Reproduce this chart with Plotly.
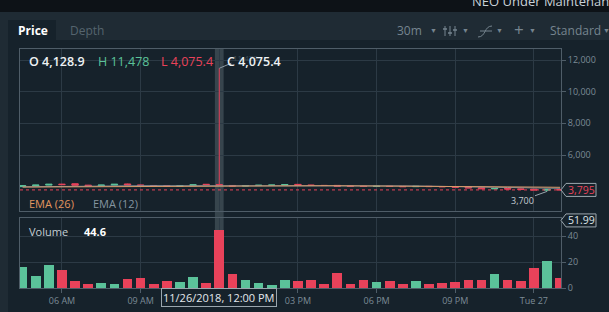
import plotly.graph_objects as go

# ---------------- data ----------------
times = [
    "2018-11-26 04:30", "2018-11-26 05:00", "2018-11-26 05:30", "2018-11-26 06:00",
    "2018-11-26 06:30", "2018-11-26 07:00", "2018-11-26 07:30", "2018-11-26 08:00",
    "2018-11-26 08:30", "2018-11-26 09:00", "2018-11-26 09:30", "2018-11-26 10:00",
    "2018-11-26 10:30", "2018-11-26 11:00", "2018-11-26 11:30", "2018-11-26 12:00",
    "2018-11-26 12:30", "2018-11-26 13:00", "2018-11-26 13:30", "2018-11-26 14:00",
    "2018-11-26 14:30", "2018-11-26 15:00", "2018-11-26 15:30", "2018-11-26 16:00",
    "2018-11-26 16:30", "2018-11-26 17:00", "2018-11-26 17:30", "2018-11-26 18:00",
    "2018-11-26 18:30", "2018-11-26 19:00", "2018-11-26 19:30", "2018-11-26 20:00",
    "2018-11-26 20:30", "2018-11-26 21:00", "2018-11-26 21:30", "2018-11-26 22:00",
    "2018-11-26 22:30", "2018-11-26 23:00", "2018-11-26 23:30", "2018-11-27 00:00",
    "2018-11-27 00:30", "2018-11-27 01:00",
]
opens = [4000, 4055, 4100, 4160, 4185, 4095, 4060, 4100, 4170, 4110, 4075, 4060,
         4030, 4060, 4150, 4128.9, 4075, 4040, 4070, 4090, 4100, 4145, 4100, 4080,
         4080, 4040, 4030, 4010, 4030, 4015, 4000, 4020, 4010, 4000, 3990, 3930,
         3860, 3890, 3860, 3840, 3780, 3830]
highs = [4075, 4110, 4165, 4175, 4200, 4110, 4110, 4160, 4185, 4120, 4085, 4070,
         4070, 4125, 4160, 11478, 4085, 4080, 4095, 4110, 4140, 4160, 4110, 4090,
         4090, 4050, 4040, 4040, 4040, 4025, 4030, 4030, 4020, 4010, 4000, 3940,
         3900, 3900, 3870, 3850, 3840, 3840]
lows = [3985, 4040, 4090, 4115, 4080, 4050, 4050, 4095, 4100, 4060, 4040, 4020,
        4020, 4050, 4120, 4075.4, 4030, 4035, 4060, 4085, 4095, 4085, 4070, 4060,
        4020, 4010, 4000, 4005, 4000, 3990, 3995, 3995, 3985, 3950, 3910, 3860,
        3850, 3840, 3820, 3780, 3700, 3790]
closes = [4060, 4100, 4150, 4130, 4090, 4060, 4100, 4150, 4110, 4070, 4050, 4030,
          4060, 4115, 4128.9, 4075.4, 4040, 4070, 4090, 4100, 4130, 4095, 4080, 4070,
          4030, 4020, 4010, 4030, 4010, 4000, 4020, 4005, 3995, 3960, 3920, 3870,
          3890, 3850, 3830, 3790, 3830, 3795]
volumes = [16.4, 9.2, 17.7, 13.8, 5.4, 3.3, 3.8, 3.1, 6.9, 7.7, 3.3, 5.4,
           4.3, 8.5, 3.8, 44.6, 11.0, 6.2, 4.1, 2.3, 6.2, 5.4, 6.2, 3.3,
           11.8, 3.1, 6.2, 4.6, 5.4, 3.3, 5.1, 3.1, 3.8, 4.3, 6.2, 6.2,
           10.8, 5.9, 5.4, 15.6, 20.8, 7.7]
ema26 = [3975, 3980, 3990, 3998, 4005, 4010, 4013, 4018, 4023, 4026, 4028, 4029,
         4031, 4035, 4040, 4045, 4046, 4048, 4050, 4052, 4055, 4058, 4059, 4060,
         4058, 4055, 4052, 4050, 4047, 4044, 4042, 4039, 4035, 4030, 4022, 4012,
         4004, 3995, 3985, 3975, 3968, 3960]
ema12 = [3990, 4000, 4020, 4035, 4045, 4048, 4052, 4060, 4068, 4068, 4065, 4060,
         4060, 4068, 4078, 4078, 4072, 4072, 4075, 4080, 4088, 4090, 4088, 4085,
         4078, 4070, 4062, 4058, 4053, 4046, 4042, 4036, 4030, 4020, 4003, 3980,
         3966, 3948, 3932, 3910, 3905, 3895]
last_price = 3795
volume_tag = 51.99
low_label = 3700
sel_index = 15
x_tickvals = ["2018-11-26 06:00", "2018-11-26 09:00", "2018-11-26 12:00",
              "2018-11-26 15:00", "2018-11-26 18:00", "2018-11-26 21:00",
              "2018-11-27 00:00"]
x_ticktext = ["06 AM", "09 AM", "", "03 PM", "06 PM", "09 PM", "Tue 27"]
price_ticks = [6000, 8000, 10000, 12000]
vol_ticks = [0, 20, 40]

# ---------------- style ----------------
W, H = 609, 312
def X(px): return px / W
def Y(py): return 1 - py / H

GREEN = "#5bc29a"
RED = "#e8425a"
BG = "#16222b"
PANEL = "#1f2b34"
GRID = "#2c3a45"
LINE = "#4f5d68"
TICK = "#7c8b96"
TAGLINE = "#9aa6ae"
FONT = "Open Sans"

PRICE_RANGE = [2463, 12695]
PRICE_PX = (211, 49)   # bottom, top pixel rows of the price pane
VOL_RANGE = [0, 53.85]
VOL_PX = (288, 218)

def val_py(v, rng, px):
    b, t = px
    return b - (v - rng[0]) / (rng[1] - rng[0]) * (b - t)

vol_colors = [GREEN if c >= o else RED for o, c in zip(opens, closes)]

fig = go.Figure()
fig.add_trace(go.Scatter(x=times, y=ema12, mode="lines", line=dict(color="#7f8e99", width=1),
                         xaxis="x", yaxis="y", hoverinfo="skip"))
fig.add_trace(go.Scatter(x=times, y=ema26, mode="lines", line=dict(color="#d99a6a", width=1),
                         xaxis="x", yaxis="y", hoverinfo="skip"))
fig.add_trace(go.Candlestick(
    x=times, open=opens, high=highs, low=lows, close=closes,
    increasing=dict(line=dict(color=GREEN, width=1), fillcolor=GREEN),
    decreasing=dict(line=dict(color=RED, width=1), fillcolor=RED),
    xaxis="x", yaxis="y", hoverinfo="skip"))
fig.add_trace(go.Bar(x=times, y=volumes, marker=dict(color=vol_colors, line=dict(width=0)),
                     width=22 * 60 * 1000, xaxis="x2", yaxis="y2", hoverinfo="skip"))

xrange = ["2018-11-26 04:24", "2018-11-27 01:02"]
tickfont = dict(family=FONT, size=9, color=TICK)

fig.update_layout(
    width=W, height=H, margin=dict(l=0, r=0, t=0, b=0, autoexpand=False),
    paper_bgcolor=BG, plot_bgcolor=BG, showlegend=False, hovermode=False,
    bargap=0,
    xaxis=dict(domain=[X(20), X(561)], range=xrange, type="date", anchor="y",
               tickvals=x_tickvals, showticklabels=False, ticks="",
               showgrid=True, gridcolor=GRID, gridwidth=1, zeroline=False,
               showline=True, linecolor=LINE, mirror=True,
               rangeslider=dict(visible=False)),
    yaxis=dict(domain=[Y(PRICE_PX[0]), Y(PRICE_PX[1])], range=PRICE_RANGE, side="right",
               anchor="x", tickvals=price_ticks, tickformat=",", ticks="outside", ticklen=4,
               tickcolor=LINE, tickfont=tickfont, showgrid=True, gridcolor=GRID,
               zeroline=False, showline=True, linecolor=LINE, mirror=True),
    xaxis2=dict(domain=[X(20), X(561)], range=xrange, type="date", anchor="y2",
                matches="x", tickvals=x_tickvals, ticktext=x_ticktext,
                ticks="outside", ticklen=4, tickcolor=LINE, tickfont=tickfont,
                showgrid=True, gridcolor=GRID, zeroline=False,
                showline=True, linecolor=LINE, mirror=True,
                rangeslider=dict(visible=False)),
    yaxis2=dict(domain=[Y(VOL_PX[0]), Y(VOL_PX[1])], range=VOL_RANGE, side="right",
                anchor="x2", tickvals=vol_ticks, ticks="outside", ticklen=4, tickcolor=LINE,
                tickfont=tickfont, showgrid=True, gridcolor=GRID, zeroline=False,
                showline=True, linecolor=LINE, mirror=True),
)

shapes = []
def prect(x0, y0, x1, y1, color, layer="below"):
    shapes.append(dict(type="rect", xref="paper", yref="paper", x0=X(x0), x1=X(x1),
                       y0=Y(y1), y1=Y(y0), fillcolor=color, line=dict(width=0), layer=layer))

prect(0, 0, 609, 12, "#0d1217")
prect(0, 12, 609, 40, PANEL)
prect(0, 40, 8, 312, PANEL)
prect(8, 20, 56, 40, BG)

# crosshair band over selected candle
shapes.append(dict(type="rect", xref="x", yref="paper",
                   x0="2018-11-26 11:50", x1="2018-11-26 12:10",
                   y0=Y(288), y1=Y(49), fillcolor="rgba(110,125,135,0.38)",
                   line=dict(width=0), layer="below"))
# last price dotted line across the whole pane
shapes.append(dict(type="line", xref="paper", yref="y", x0=X(20), x1=X(561),
                   y0=last_price, y1=last_price, line=dict(color=RED, width=1, dash="dot")))

# tag outlines with a pointed left edge
def tag(cy):
    pts = [(561, cy), (566, cy - 6.5), (596, cy - 6.5), (596, cy + 6.5), (566, cy + 6.5)]
    path = "M " + " L ".join(f"{X(a)},{Y(b)}" for a, b in pts) + " Z"
    shapes.append(dict(type="path", xref="paper", yref="paper", path=path,
                       fillcolor=BG, line=dict(color=TAGLINE, width=1), layer="above"))

price_tag_py = val_py(last_price, PRICE_RANGE, PRICE_PX)
vol_tag_py = val_py(volume_tag, VOL_RANGE, VOL_PX)
tag(price_tag_py)
tag(vol_tag_py)

# toolbar icons (sliders)
ic = "#76858f"
for sx, ky in [(445, 29), (450, 33), (455, 30)]:
    shapes.append(dict(type="line", xref="paper", yref="paper", x0=X(sx), x1=X(sx),
                       y0=Y(36), y1=Y(26), line=dict(color=ic, width=1)))
    shapes.append(dict(type="line", xref="paper", yref="paper", x0=X(sx - 2), x1=X(sx + 2),
                       y0=Y(ky), y1=Y(ky), line=dict(color=ic, width=1.5)))
# curve icon
shapes.append(dict(type="path", xref="paper", yref="paper",
                   path=f"M {X(478)},{Y(37)} C {X(486)},{Y(37)} {X(484)},{Y(26)} {X(492)},{Y(26)}",
                   line=dict(color=ic, width=1)))
shapes.append(dict(type="line", xref="paper", yref="paper", x0=X(480), x1=X(492),
                   y0=Y(31), y1=Y(31), line=dict(color=ic, width=1)))
fig.update_layout(shapes=shapes)

ann = []
def txt(px, py, text, color, size, anchor="left", weight=None, family=FONT, **kw):
    f = dict(family=family, size=size, color=color)
    if weight:
        f["weight"] = weight
    ann.append(dict(xref="paper", yref="paper", x=X(px), y=Y(py), text=text, showarrow=False,
                    xanchor=anchor, yanchor="middle", font=f, **kw))

# top bar title (cut off)
txt(470, 1, "NEO Under Maintenance", "#c9d1d8", 13)
# tabs
txt(16, 31, "Price", "#ffffff", 12, weight=700)
txt(68, 31, "Depth", "#55646e", 12)
# toolbar
txt(395, 31, "30m", ic, 12)
txt(428, 31, "▼", ic, 7)
txt(460, 31, "▼", ic, 7)
txt(494, 31, "▼", ic, 7)
txt(512, 30, "+", ic, 17)
txt(527, 31, "▼", ic, 7)
txt(548, 31, "Standard", ic, 12)
txt(601, 31, "▼", ic, 7)

# high label behind OHLC
ann.append(dict(xref="x", yref="y", x=times[sel_index], y=highs[sel_index], text="11,478",
                showarrow=True, arrowhead=0, arrowwidth=1, arrowcolor="#8a98a2",
                ax=26, ay=-11, font=dict(family=FONT, size=8, color="#3e4c56")))
# OHLC legend
txt(27, 62, "O 4,128.9", "#eef2f4", 12.5, weight=600)
txt(96, 62, "H 11,478", GREEN, 12.5)
txt(159, 62, "L 4,075.4", RED, 12.5)
txt(225, 62, "C 4,075.4", "#eef2f4", 12.5, weight=600)
# EMA legend
txt(27, 203, "EMA (26)", "#e3955f", 11)
txt(91, 203, "EMA (12)", "#8595a0", 11)
# volume legend
txt(27, 231, "Volume", "#c5ced4", 11)
txt(82, 231, "44.6", "#ffffff", 11, weight=700)

# low label
ann.append(dict(xref="x", yref="y", x=times[40], y=low_label, text="3,700",
                showarrow=True, arrowhead=0, arrowwidth=1, arrowcolor=TAGLINE,
                ax=-25, ay=9, font=dict(family=FONT, size=9, color="#c5cdd3")))
# tag texts
txt(581, price_tag_py, f"{last_price:,}", RED, 10.5, anchor="center")
txt(581, vol_tag_py, f"{volume_tag}", "#dfe5e9", 10.5, anchor="center")
# crosshair date box
ann.append(dict(xref="x", yref="paper", x=times[sel_index], y=Y(297), text="11/26/2018, 12:00 PM",
                showarrow=False, xanchor="center", yanchor="middle",
                font=dict(family=FONT, size=11, color="#e3e8eb"),
                bgcolor=BG, bordercolor=TAGLINE, borderwidth=1, borderpad=1))
fig.update_layout(annotations=ann)

fig.write_html("out.html")
